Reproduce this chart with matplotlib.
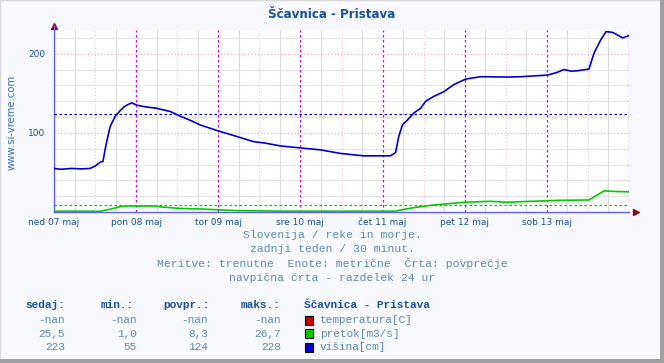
'''
    Ščavnica - Pristava: last week, 30 min readings
'''
import matplotlib.pyplot as plt
from matplotlib.patches import Rectangle

# hours since ned 07 maj 00:00, and water level [cm]
visina_h = [0, 2, 5, 8, 10.5, 12, 13.5, 14.3, 15.2, 16.4, 17.9, 19.3, 20.5, 21.7, 22.7,
            24.2, 26.6, 30, 34, 36.9, 39.8, 42.7, 47.6, 53, 58.2, 61.8, 66.1, 72, 77.9,
            83.7, 90.4, 95.4, 98.3, 99.8, 100.7, 101.8, 103.2, 105.1, 107.1, 108.6, 110.9,
            113.9, 116.8, 120.3, 124.7, 132.5, 136.4, 140.3, 144.2, 146.7, 149, 151.1, 153,
            156.3, 157.8, 159.8, 161.3, 163.2, 166.2, 168]
visina = [55, 54, 55, 54.5, 55, 58, 63, 64, 85, 108, 121, 128, 133, 136, 138,
          135, 133, 131, 127, 121, 116, 110, 103, 96, 89, 87, 83.5, 81, 78.5,
          74, 71, 71, 71, 75, 95, 110, 116, 125, 131, 140, 146,
          152, 161, 168, 171, 170.5, 171, 172, 173, 176, 180, 178, 178.5,
          180.6, 201, 218, 228, 227, 220, 223]

# flow [m3/s]
pretok_h = [0, 13.5, 16.4, 19.3, 20.8, 29.6, 31, 36.9, 42.7, 53.6, 67, 99.8, 101.3,
            105.1, 110, 119.7, 127.6, 132.6, 136.4, 148.1, 156.3, 160.7, 163.6, 168]
pretok = [1.0, 1.0, 3.5, 6.7, 7.6, 7.6, 6.5, 4.5, 3.8, 1.7, 1.0, 1.0, 2.5,
          5.5, 8.4, 12.3, 13.5, 12.3, 13, 14.8, 15.2, 26.7, 26.0, 25.5]

avg_visina = 124
avg_pretok = 8.3

day_labels = ['ned 07 maj', 'pon 08 maj', 'tor 09 maj', 'sre 10 maj',
              'čet 11 maj', 'pet 12 maj', 'sob 13 maj']

header = ['sedaj:', 'min.:', 'povpr.:', 'maks.:']
rows = [['-nan', '-nan', '-nan', '-nan'],
        ['25,5', '1,0', '8,3', '26,7'],
        ['223', '55', '124', '228']]
legend_names = ['temperatura[C]', 'pretok[m3/s]', 'višina[cm]']
legend_colors = ['#cc0000', '#00cc00', '#0000cc']

W, H = 664, 363
txt_blue = '#1a4f9c'
txt_light = '#5f86b4'
mono = 'Liberation Mono'

fig = plt.figure(figsize=(W / 100, H / 100), dpi=100)
fig.patch.set_facecolor('#f7f9fe')
# frame like the site's image border
fig.patches.append(Rectangle((0, 0), 1, 1, transform=fig.transFigure, fill=False,
                             edgecolor='#d8d8d8', lw=1))
fig.patches.append(Rectangle((1 - 4 / W, 0), 4 / W, 1, transform=fig.transFigure,
                             color='#a0a0a0', lw=0))
fig.patches.append(Rectangle((0, 0), 1, 4 / H, transform=fig.transFigure,
                             color='#a0a0a0', lw=0))

ax = fig.add_axes([54 / W, 1 - 212 / H, (629 - 54) / W, (212 - 30) / H])
ax.set_facecolor('white')
ax.set_xlim(0, 168)
ax.set_ylim(0, 230)

# grid
for h in range(6, 168, 6):
    if h % 24 == 0:
        continue
    c = '#f0c0d0' if h % 12 == 0 else '#dddddd'
    ax.axvline(h, color=c, lw=0.8, ls=(0, (1, 2)) if h % 12 == 0 else '-', zorder=1)
for v in range(20, 231, 20):
    if v % 100 == 0:
        ax.axhline(v, color='#f0a0b8', lw=0.8, ls=(0, (1, 2)), zorder=1)
    else:
        ax.axhline(v, color='#e4e4e4', lw=0.8, zorder=1)
for h in range(24, 169, 24):
    ax.axvline(h, color='#dd00dd', lw=0.9, ls=(0, (2, 2)), zorder=2)

ax.axhline(avg_visina, color='#0000cc', lw=0.9, ls=(0, (2, 2)), zorder=3)
ax.axhline(avg_pretok, color='#00cc00', lw=0.9, ls=(0, (2, 2)), zorder=3)

ax.plot(pretok_h, pretok, color='#00cc00', lw=1.2, zorder=4)
ax.plot(visina_h, visina, color='#0000cc', lw=1.2, zorder=5)

for s in ['top', 'right']:
    ax.spines[s].set_visible(False)
for s in ['left', 'bottom']:
    ax.spines[s].set_color('#6060ff')
    ax.spines[s].set_linewidth(1.0)
ax.spines['left'].set_bounds(0, 235)
ax.plot([0], [1.02], marker='^', color='#8b1010', ms=5, transform=ax.transAxes, clip_on=False)
ax.plot([1.012], [0], marker='>', color='#8b1010', ms=5, transform=ax.transAxes, clip_on=False)

ax.set_xticks(range(0, 168, 24))
ax.set_xticklabels(day_labels)
ax.set_yticks([100, 200])
ax.tick_params(length=0, labelsize=6.5, labelcolor=txt_blue, pad=4)
ax.tick_params(axis='y', pad=6)

fig.text(12 / W, 1 - 122 / H, 'www.si-vreme.com', rotation=90, ha='center', va='center',
         color='#3a70b0', fontsize=7.3)
fig.text(332 / W, 1 - 15 / H, 'Ščavnica - Pristava', ha='center', va='center',
         color=txt_blue, fontsize=8.6, fontweight='bold')

sub = ['Slovenija / reke in morje.', 'zadnji teden / 30 minut.',
       'Meritve: trenutne  Enote: metrične  Črta: povprečje',
       'navpična črta - razdelek 24 ur']
for i, s in enumerate(sub):
    fig.text(332 / W, 1 - (235 + 14.3 * i) / H, s, ha='center', va='center',
             color=txt_light, fontsize=8.2, family=mono)

# summary table
col_left = [25, 101, 163, 241]
col_right = [65, 137, 208, 281]
for j, hd in enumerate(header):
    fig.text(col_left[j] / W, 1 - 305.5 / H, hd, ha='left', va='center',
             color=txt_blue, fontsize=8, family=mono, fontweight='bold')
for i, r in enumerate(rows):
    y = 1 - (320 + 13.7 * i) / H
    for j, val in enumerate(r):
        fig.text(col_right[j] / W, y, val, ha='right', va='center',
                 color=txt_light, fontsize=8, family=mono)
    fig.patches.append(Rectangle((305 / W, y - 4.5 / H), 8 / W, 9 / H,
                                 transform=fig.transFigure, facecolor=legend_colors[i],
                                 edgecolor='black', lw=0.8))
    fig.text(320 / W, y, legend_names[i], ha='left', va='center',
             color=txt_light, fontsize=8, family=mono)
fig.text(304 / W, 1 - 305.5 / H, 'Ščavnica - Pristava', ha='left', va='center',
         color=txt_blue, fontsize=8, family=mono, fontweight='bold')

fig.savefig('out.png', dpi=100, facecolor=fig.get_facecolor())
